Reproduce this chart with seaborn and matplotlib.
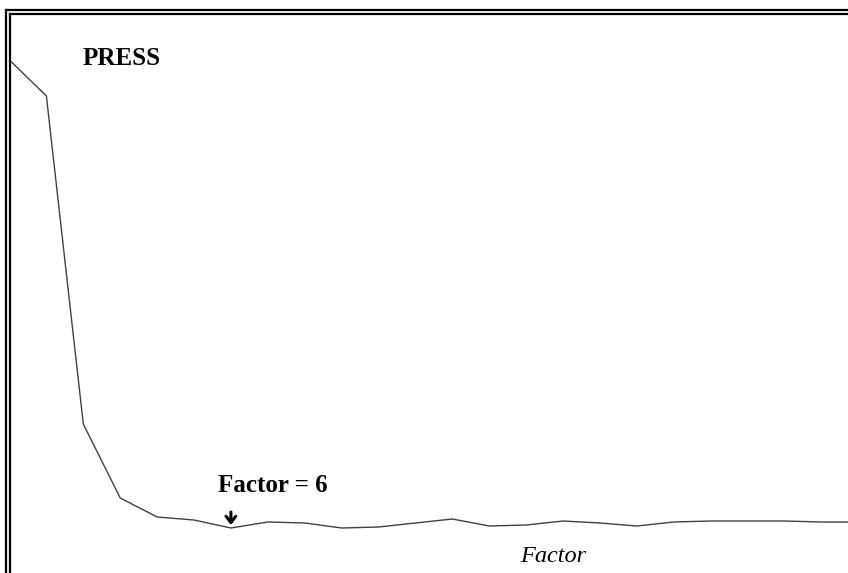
import matplotlib
matplotlib.use("Agg")
import matplotlib.pyplot as plt
from matplotlib.lines import Line2D
import seaborn as sns
import pandas as pd

# PRESS statistic versus number of factors
factors = list(range(24))
press = [48.0, 44.4, 11.6, 4.2, 2.3, 2.0, 1.2, 1.8, 1.7, 1.2, 1.3, 1.7,
         2.1, 1.4, 1.5, 1.9, 1.7, 1.4, 1.8, 1.9, 1.9, 1.9, 1.8, 1.8]
best_factor = 6

sns.set_style("white")
plt.rcParams["font.family"] = ["Liberation Serif", "DejaVu Serif"]
plt.rcParams["text.color"] = "black"

W, H = 848, 573
fig = plt.figure(figsize=(W / 100, H / 100), dpi=100)
ax = fig.add_axes([0, 0, 1, 1])

df = pd.DataFrame({"Factor": factors, "PRESS": press})
sns.lineplot(data=df, x="Factor", y="PRESS", ax=ax, color="#404040",
             linewidth=1.0, estimator=None, sort=False)

ax.set_xlim(-0.257, 22.72)
ax.set_ylim(-3.3, 54.0)
ax.axis("off")

# labels
ax.text(82.7 / W, 1 - 65 / H, "PRESS", transform=ax.transAxes,
        fontsize=18, fontweight="bold", ha="left", va="baseline", color="black")
ax.text(520 / W, 1 - 561.5 / H, "Factor", transform=ax.transAxes,
        fontsize=17.5, fontstyle="italic", ha="left", va="baseline", color="black")

# marker for the chosen number of factors
best_val = press[best_factor]
ax.text(best_factor - 0.35, best_val + 3.6, f"Factor = {best_factor}",
        fontsize=18, fontweight="bold", ha="left", va="baseline", color="black")
ax.annotate("", xy=(best_factor, best_val + 0.3),
            xytext=(best_factor, best_val + 1.6),
            arrowprops=dict(arrowstyle="->,head_width=0.35,head_length=0.45",
                            lw=2.2, color="black", shrinkA=0, shrinkB=0))

# double frame along the top and left
def fig_line(xs, ys):
    fig.add_artist(Line2D([x / W for x in xs], [1 - y / H for y in ys],
                          transform=fig.transFigure, color="black",
                          linewidth=1.6, solid_capstyle="projecting"))

fig_line([6.3, W], [9.6, 9.6])
fig_line([6.3, 6.3], [9.6, H])
fig_line([10.3, W], [13.6, 13.6])
fig_line([10.3, 10.3], [13.6, H])

fig.savefig("out.png", dpi=100, facecolor="white")
